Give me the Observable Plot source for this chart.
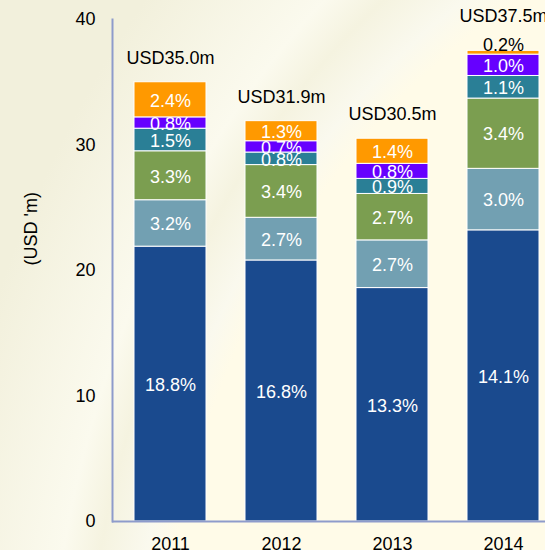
<!DOCTYPE html>
<html><head><meta charset="utf-8">
<script src="https://cdn.jsdelivr.net/npm/d3@7"></script>
<script src="https://cdn.jsdelivr.net/npm/@observablehq/plot@0.6"></script>
<style>
html,body{margin:0;padding:0;overflow:hidden;width:545px;height:550px;}
body{
  background:
    radial-gradient(ellipse 900px 1150px at 820px 760px, rgba(255,251,232,1) 0%, rgba(255,251,232,1) 74%, rgba(250,249,238,1) 77%, rgba(245,243,224,1) 82%, rgba(251,250,238,1) 86%, rgba(242,240,220,1) 100%);
  background-color:#FEFBE8;
}
#chart svg{display:block;background:transparent;}
</style></head>
<body><div id="chart"></div>
<script>
// categories
const years = ["2011", "2012", "2013", "2014"];
const seriesNames = ["s1", "s2", "s3", "s4", "s5", "s6"]; // bottom to top
const seriesColors = ["#1A4A8E", "#72A0B2", "#7B9E50", "#2A7F96", "#6600FF", "#FF9900"];

// segment values (USD m), bottom to top
const s1Values = [21.9, 20.8, 18.6, 23.2];
const s2Values = [3.7, 3.4, 3.8, 4.9];
const s3Values = [3.9, 4.2, 3.7, 5.6];
const s4Values = [1.8, 1.0, 1.2, 1.8];
const s5Values = [0.9, 0.9, 1.2, 1.7];
const s6Values = [2.8, 1.6, 2.0, 0.3];

// segment labels
const s1Labels = ["18.8%", "16.8%", "13.3%", "14.1%"];
const s2Labels = ["3.2%", "2.7%", "2.7%", "3.0%"];
const s3Labels = ["3.3%", "3.4%", "2.7%", "3.4%"];
const s4Labels = ["1.5%", "0.8%", "0.9%", "1.1%"];
const s5Labels = ["0.8%", "0.7%", "0.8%", "1.0%"];
const s6Labels = ["2.4%", "1.3%", "1.4%", "0.2%"];

// totals
const totals = [35.0, 31.9, 30.5, 37.5];
const totalLabels = ["USD35.0m", "USD31.9m", "USD30.5m", "USD37.5m"];

const yTicks = [0, 10, 20, 30, 40];
const yLabel = "(USD 'm)";

const allValues = [s1Values, s2Values, s3Values, s4Values, s5Values, s6Values];
const allLabels = [s1Labels, s2Labels, s3Labels, s4Labels, s5Labels, s6Labels];

// build stacked rows
const rows = [];
years.forEach((yr, i) => {
  let acc = 0;
  seriesNames.forEach((s, k) => {
    const v = allValues[k][i];
    rows.push({year: yr, series: s, k, value: v, y1: acc, y2: acc + v, label: allLabels[k][i], top: k === seriesNames.length - 1});
    acc += v;
  });
});
const smallTop = (yr) => rows.find(r => r.year === yr && r.top).value < 0.6;
const totalRows = years.map((yr, i) => ({year: yr, total: totals[i], label: totalLabels[i], small: smallTop(yr)}));

const font = "Liberation Sans, Arial, Helvetica, sans-serif";
const axisColor = "#8E9BCB";
const fs = 18;

const marks = [];
seriesNames.forEach((s, k) => {
  const data = rows.filter(r => r.series === s);
  marks.push(Plot.barY(data, {x: "year", y1: "y1", y2: "y2", fill: seriesColors[k], stroke: "white", strokeWidth: 1}));
  const inside = data.filter(r => !(r.top && r.value < 0.6));
  const outside = data.filter(r => r.top && r.value < 0.6);
  marks.push(Plot.text(inside, {x: "year", y: d => (d.y1 + d.y2) / 2, text: "label", fill: "white", fontSize: fs, dy: 1}));
  marks.push(Plot.text(outside, {x: "year", y: "y2", text: "label", fill: "black", fontSize: fs, dy: -6}));
});
marks.push(Plot.text(totalRows.filter(d => !d.small), {x: "year", y: "total", text: "label", fill: "black", fontSize: fs, dy: -24}));
marks.push(Plot.text(totalRows.filter(d => d.small), {x: "year", y: "total", text: "label", fill: "black", fontSize: fs, dy: -35}));
marks.push(Plot.frame({anchor: "left", stroke: axisColor, strokeWidth: 2}));
marks.push(Plot.ruleY([0], {stroke: axisColor, strokeWidth: 2}));
marks.push(Plot.axisY(yTicks, {tickSize: 0, tickPadding: 17, fontSize: fs, fill: "black", label: null}));
marks.push(Plot.axisX({tickSize: 0, tickPadding: 16, fontSize: fs, fill: "black", label: null}));
marks.push(Plot.text([yLabel], {frameAnchor: "left", dx: -81, dy: -5, rotate: -90, fontSize: fs, fill: "black"}));

const chart = Plot.plot({
  width: 545,
  height: 550,
  marginLeft: 112,
  marginRight: 0,
  marginTop: 19,
  marginBottom: 29,
  style: {fontFamily: font, fontSize: fs + "px", background: "transparent", overflow: "visible"},
  x: {type: "band", domain: years, range: [112, 561], paddingInner: 0.348, paddingOuter: 0.1786, axis: null},
  y: {domain: [0, 40], axis: null},
  marks
});
document.getElementById("chart").appendChild(chart);
</script>
</body></html>
